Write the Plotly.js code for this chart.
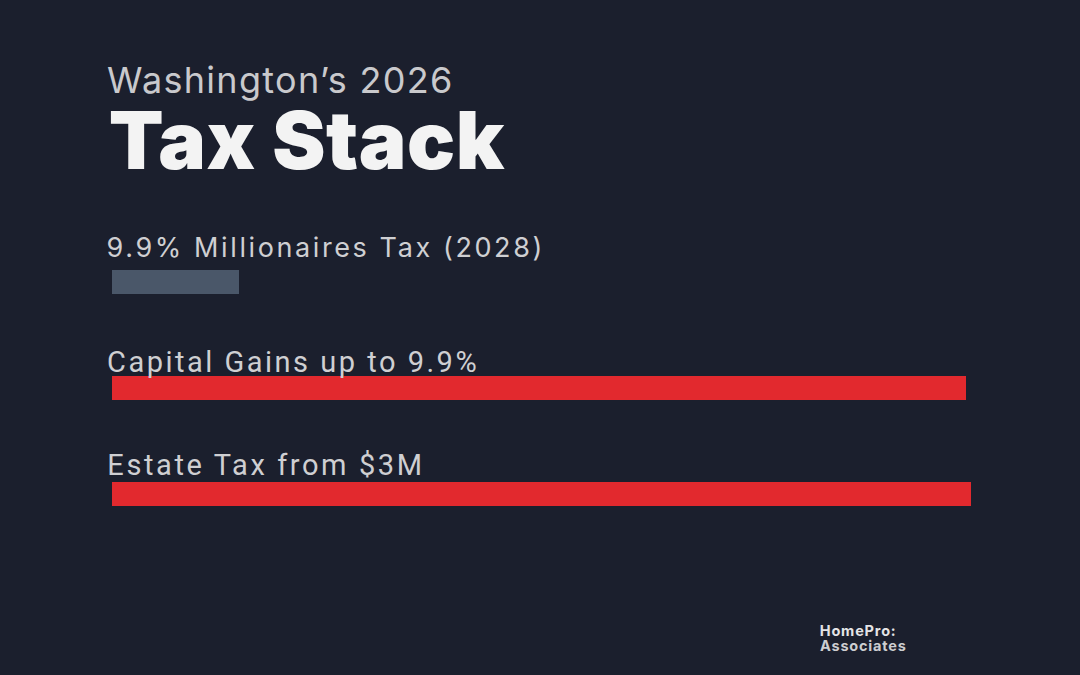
<!DOCTYPE html>
<html>
<head>
<meta charset="utf-8">
<script src="https://cdn.plot.ly/plotly-3.0.1.min.js"></script>
<style>
  html, body { margin: 0; padding: 0; background: #1b1f2d; }
  #chart { width: 1080px; height: 675px; }
</style>
</head>
<body>
<div id="chart"></div>
<script>
// Three taxes, top to bottom, each bar's relative weight in the stack
const categories = ["9.9% Millionaires Tax (2028)", "Capital Gains up to 9.9%", "Estate Tax from $3M"];
const barValues = [14.8, 99.4, 100];
const barColors = ["#4a5769", "#e2292e", "#e2292e"];

const W = 1080, H = 675;
const margin = { l: 112, r: 109, t: 229, b: 128 };
const plotW = W - margin.l - margin.r;
const plotH = H - margin.t - margin.b;
// page pixel -> paper coordinates
const py = p => (H - margin.b - p) / plotH;
const px = p => (p - margin.l) / plotW;

const trace = {
  type: "bar",
  orientation: "h",
  x: barValues,
  y: categories,
  width: 0.235,
  marker: { color: barColors, line: { width: 0 } },
  hoverinfo: "skip"
};

const INTER = "Inter, 'Open Sans', sans-serif";
const NARROW = "Roboto, 'Liberation Sans', sans-serif";

// letter spacing per annotation (applied after drawing); xshift compensates
// for the text growing symmetrically around its anchor
const tracking = [];
function ann(opts, spacing) {
  tracking.push(spacing);
  const n = opts.text.replace(/<[^>]+>/g, "").length;
  opts.xshift = (opts.xshift || 0) - 3 + spacing * n / 2;
  opts.showarrow = false;
  return opts;
}

const annotations = [
  ann({ text: "Washington\u2019s 2026", xref: "paper", yref: "paper", x: px(108),
    y: py(104), yanchor: "bottom", xanchor: "left",
    font: { family: INTER, size: 36, color: "#c9c9cc" } }, 1.3),
  ann({ text: "Tax Stack", xref: "paper", yref: "paper", x: px(110),
    y: py(190), yanchor: "bottom", xanchor: "left",
    font: { family: INTER, size: 80, color: "#f3f3f3", weight: 900 } }, 0.5)
];

// label offsets above each bar (pixels)
const labelShift = [16, 7, 10];
const labelFonts = [INTER, NARROW, NARROW];
const labelSizes = [27, 29, 29];
const labelTracking = [2.6, 2.5, 2.6];
categories.forEach((c, i) => {
  annotations.push(ann({
    text: c, xref: "paper", yref: "y", x: px(108), y: c,
    yshift: labelShift[i], xanchor: "left", yanchor: "bottom",
    font: { family: labelFonts[i], size: labelSizes[i], color: "#cfcfd2" }
  }, labelTracking[i]));
});

// logo block
annotations.push(ann({ text: "<b>HomePro:</b>", xref: "paper", yref: "paper",
  x: px(821), y: py(640), xanchor: "left", yanchor: "middle", yshift: 10,
  font: { family: INTER, size: 14.5, color: "#e4e4e6" } }, 0.8));
annotations.push(ann({ text: "<b>Associates</b>", xref: "paper", yref: "paper",
  x: px(821), y: py(655), xanchor: "left", yanchor: "middle", yshift: 10,
  font: { family: INTER, size: 14.5, color: "#cdcdd0" } }, 0.8));

const layout = {
  width: W, height: H,
  margin: margin,
  paper_bgcolor: "#1b1f2d",
  plot_bgcolor: "#1b1f2d",
  showlegend: false,
  bargap: 0,
  xaxis: { range: [0, 100], visible: false, fixedrange: true },
  yaxis: { range: [2.5, -0.5], visible: false, fixedrange: true, type: "category" },
  annotations: annotations
};

Plotly.newPlot("chart", [trace], layout, { displayModeBar: false, staticPlot: true }).then(gd => {
  gd.querySelectorAll("g.annotation").forEach(g => {
    const i = +g.getAttribute("data-index");
    const t = g.querySelector("text");
    if (t) t.style.letterSpacing = tracking[i] + "px";
  });
});
</script>
</body>
</html>
